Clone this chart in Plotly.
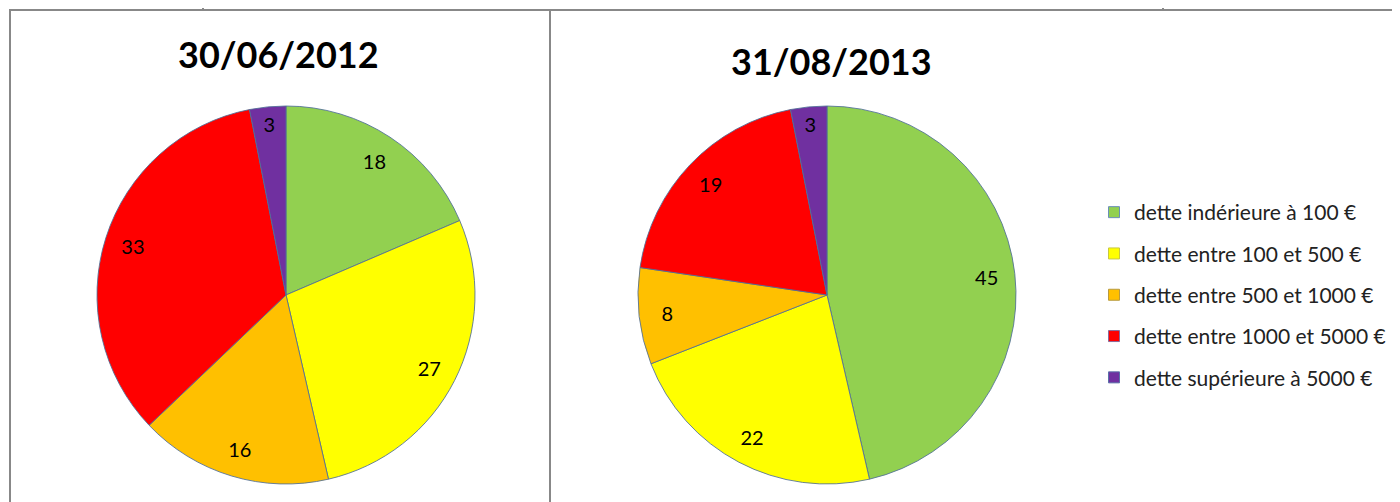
import plotly.graph_objects as go

categories = ["dette indérieure à 100 €", "dette entre 100 et 500 €", "dette entre 500 et 1000 €",
              "dette entre 1000 et 5000 €", "dette supérieure à 5000 €"]
values_2012 = [18, 27, 16, 33, 3]
values_2013 = [45, 22, 8, 19, 3]
titles = ["30/06/2012", "31/08/2013"]
colors = ["#92d050", "#ffff00", "#ffc000", "#ff0000", "#7030a0"]
edge_colors = ["#6a8fb8", "#c8c840", "#b89a40", "#8a6a9a", "#5a70a8"]

W, H = 1400, 502
OX, OY = 8, 8  # page body margin offset
FONT = "Lato"

fig = go.Figure()

def px(x):
    return (x - OX) / W

def py(y):
    return 1 - (y - OY) / H

for vals, (x0, x1) in [(values_2012, (97, 475)), (values_2013, (638, 1016))]:
    dom = dict(x=[px(x0), px(x1)], y=[py(484), py(106)])
    fig.add_trace(go.Pie(
        labels=categories, values=vals, sort=False, direction="clockwise", rotation=0,
        marker=dict(colors=colors, line=dict(color="rgba(80,110,150,0.85)", width=1)),
        textinfo="none", domain=dom, showlegend=False, hoverinfo="label+value",
    ))
    # transparent ring carrying the value labels near the rim
    fig.add_trace(go.Pie(
        labels=categories, values=vals, sort=False, direction="clockwise", rotation=0,
        hole=0.70,
        marker=dict(colors=["rgba(0,0,0,0)"] * len(vals), line=dict(width=0)),
        textinfo="value", textposition="inside", insidetextorientation="horizontal",
        textfont=dict(family=FONT, size=20, color="#000000"),
        domain=dom, showlegend=False, hoverinfo="skip",
    ))

# legend entries
for i, (c, col) in enumerate(zip(categories, colors)):
    fig.add_trace(go.Scatter(
        x=[None], y=[None], mode="markers", name=c, legendgroup=c,
        marker=dict(symbol="square", size=11, color=col, line=dict(color=edge_colors[i], width=1)),
        showlegend=True,
    ))

# titles
for t, cx, cy in [(titles[0], 278, 54), (titles[1], 832, 61)]:
    fig.add_annotation(text="<b>%s</b>" % t, x=px(cx), y=py(cy), xref="paper", yref="paper",
                       showarrow=False, xanchor="center", yanchor="middle",
                       font=dict(family=FONT, size=36, color="#000000"))

# table grid lines
line_style = dict(color="#888888", width=2)
def vline(x, y0, y1):
    fig.add_shape(type="line", xref="paper", yref="paper", x0=px(x), x1=px(x),
                  y0=py(y0), y1=py(y1), line=line_style)
def hline(y, x0, x1):
    fig.add_shape(type="line", xref="paper", yref="paper", x0=px(x0), x1=px(x1),
                  y0=py(y), y1=py(y), line=line_style)

hline(10, 9, 1410)
vline(203, 0, 10)
vline(1163, 0, 10)
vline(10, 10, 515)
vline(550, 10, 515)

fig.update_layout(
    width=W, height=H, margin=dict(l=0, r=0, t=0, b=0),
    paper_bgcolor="white", plot_bgcolor="white",
    xaxis=dict(visible=False), yaxis=dict(visible=False),
    legend=dict(x=px(1094), y=py(192), xanchor="left", yanchor="top",
                font=dict(family=FONT, size=21, color="#222222"),
                tracegroupgap=11, bgcolor="rgba(0,0,0,0)"),
    font=dict(family=FONT),
)

fig.write_html("out.html")
